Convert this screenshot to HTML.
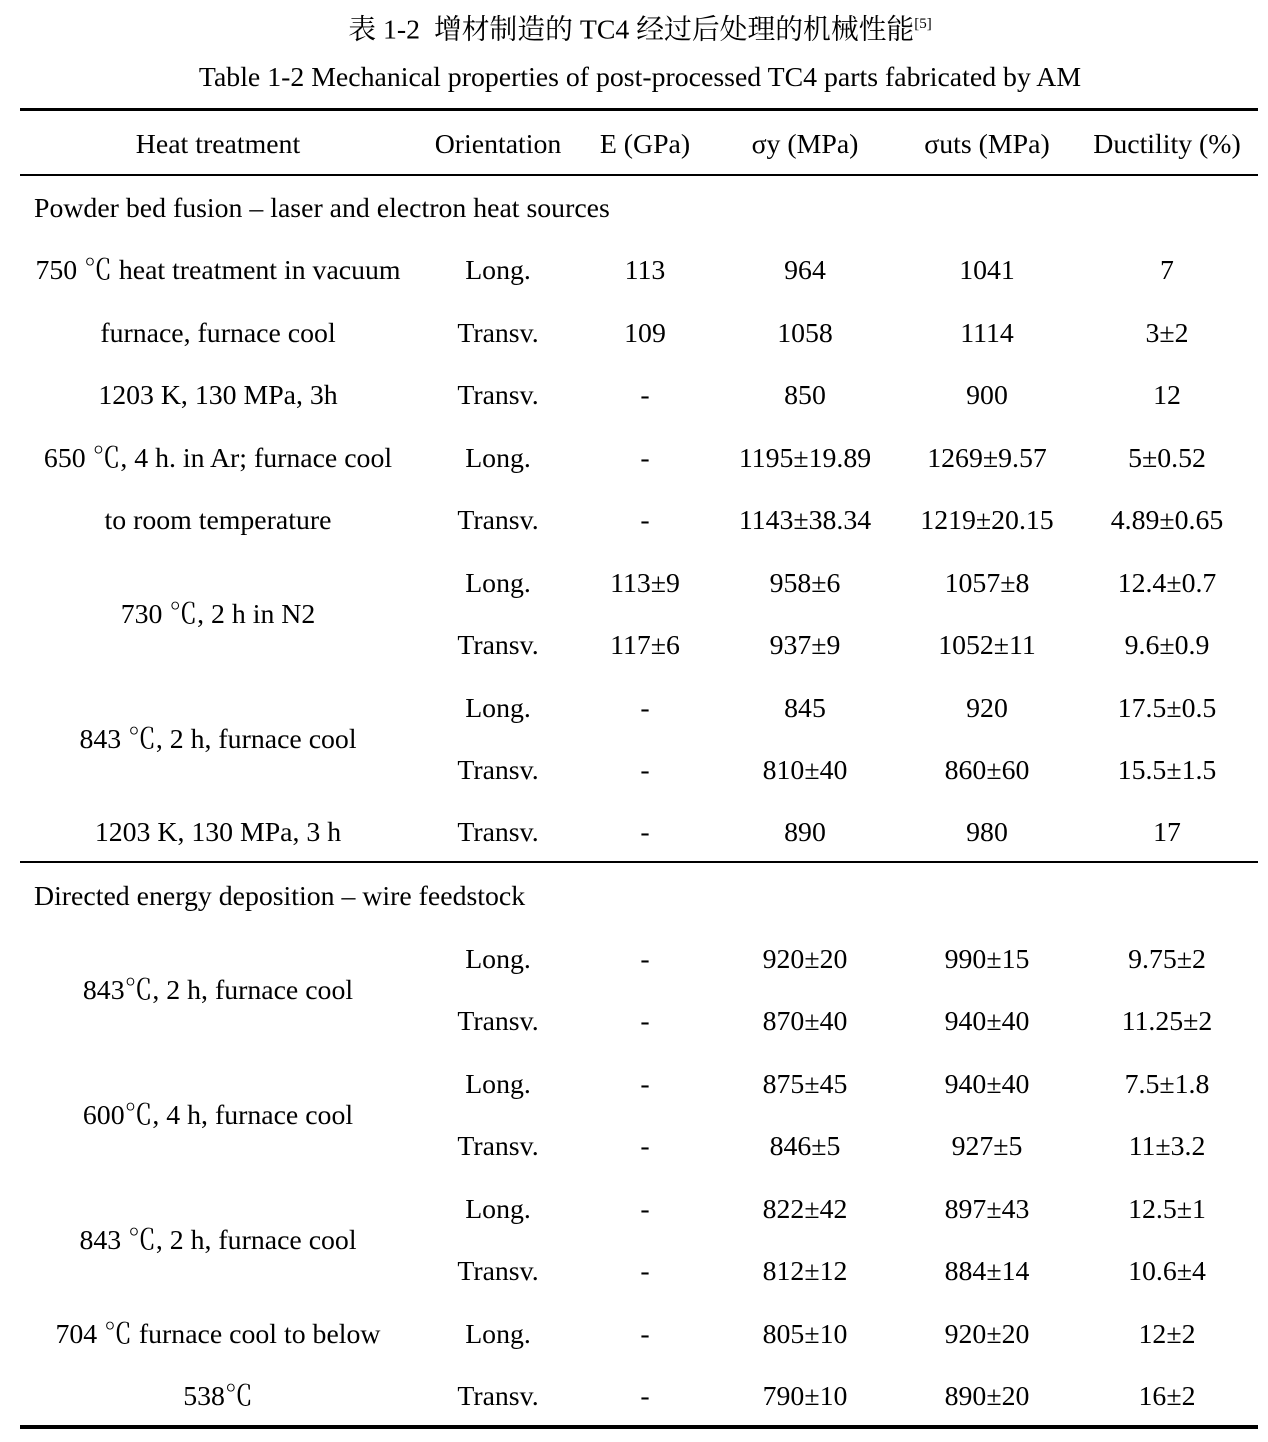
<!DOCTYPE html>
<html><head><meta charset="utf-8"><style>
body{margin:0;background:#fff;width:1268px;height:1442px;position:relative;overflow:hidden;font-family:"Liberation Serif","Noto Serif CJK SC",serif;color:#000}
.t{position:absolute;width:400px;text-align:center;font-size:27.8px;line-height:30px;white-space:nowrap}
.l{position:absolute;left:20px;width:1238px;background:#000}
</style></head><body>
<div class="t" style="left:140px;width:1000px;top:9px;font-family:'Liberation Serif','Noto Serif CJK SC',serif;font-size:27.8px">表 1-2&nbsp; 增材制造的 TC4 经过后处理的机械性能<sup style="font-size:15px">[5]</sup></div>
<div class="t" style="left:140px;width:1000px;top:63px">Table 1-2 Mechanical properties of post-processed TC4 parts fabricated by AM</div>
<div class="l" style="top:108px;height:3px"></div>
<div class="l" style="top:174px;height:2px"></div>
<div class="l" style="top:861px;height:2px"></div>
<div class="l" style="top:1425px;height:4px"></div>
<div id="c"></div>
<script>
var X=[218,498,645,805,987,1167];
var rows=[
[144,["Heat treatment","Orientation","E (GPa)","σy (MPa)","σuts (MPa)","Ductility (%)"]],
[270,["750 ℃ heat treatment in vacuum","Long.","113","964","1041","7"]],
[333,["furnace, furnace cool","Transv.","109","1058","1114","3±2"]],
[395,["1203 K, 130 MPa, 3h","Transv.","-","850","900","12"]],
[458,["650 ℃, 4 h. in Ar; furnace cool","Long.","-","1195±19.89","1269±9.57","5±0.52"]],
[520,["to room temperature","Transv.","-","1143±38.34","1219±20.15","4.89±0.65"]],
[583,["","Long.","113±9","958±6","1057±8","12.4±0.7"]],
[614,["730 ℃, 2 h in N2"]],
[645,["","Transv.","117±6","937±9","1052±11","9.6±0.9"]],
[708,["","Long.","-","845","920","17.5±0.5"]],
[739,["843 ℃, 2 h, furnace cool"]],
[770,["","Transv.","-","810±40","860±60","15.5±1.5"]],
[832,["1203 K, 130 MPa, 3 h","Transv.","-","890","980","17"]],
[959,["","Long.","-","920±20","990±15","9.75±2"]],
[990,["843℃, 2 h, furnace cool"]],
[1021,["","Transv.","-","870±40","940±40","11.25±2"]],
[1084,["","Long.","-","875±45","940±40","7.5±1.8"]],
[1115,["600℃, 4 h, furnace cool"]],
[1146,["","Transv.","-","846±5","927±5","11±3.2"]],
[1209,["","Long.","-","822±42","897±43","12.5±1"]],
[1240,["843 ℃, 2 h, furnace cool"]],
[1271,["","Transv.","-","812±12","884±14","10.6±4"]],
[1334,["704 ℃ furnace cool to below","Long.","-","805±10","920±20","12±2"]],
[1396,["538℃","Transv.","-","790±10","890±20","16±2"]]
];
var h="";
rows.forEach(function(r){r[1].forEach(function(s,i){if(s)h+='<div class="t" style="left:'+(X[i]-200)+'px;top:'+(r[0]-14)+'px">'+s+'</div>';});});
h+='<div class="t" style="left:34px;text-align:left;top:194px">Powder bed fusion – laser and electron heat sources</div>';
h+='<div class="t" style="left:34px;text-align:left;top:882px">Directed energy deposition – wire feedstock</div>';
document.getElementById("c").innerHTML=h;
</script>
</body></html>
